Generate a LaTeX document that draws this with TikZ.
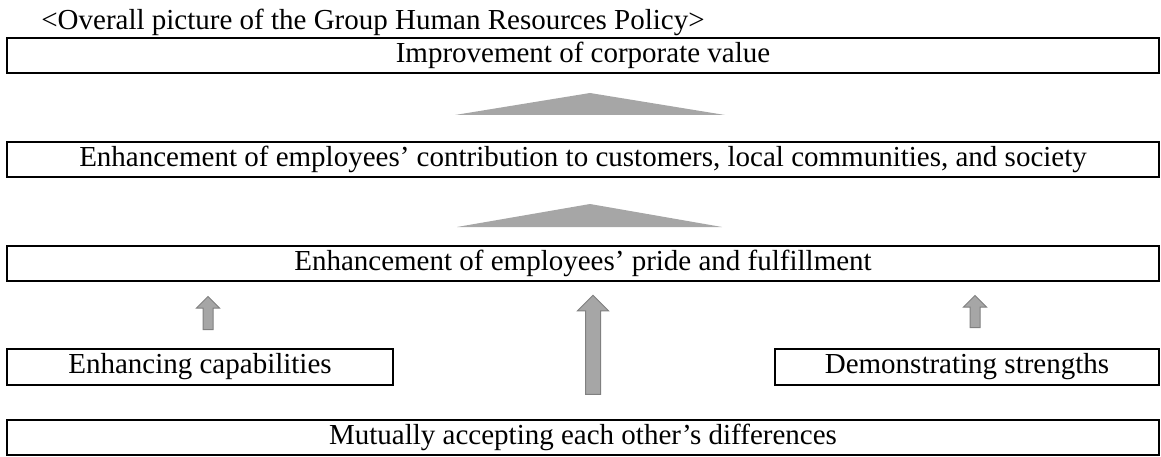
\documentclass[tikz,border=0pt]{standalone}
\usepackage{fontspec}
\setmainfont{Liberation Serif}
\usetikzlibrary{shapes.arrows}

\begin{document}
\begin{tikzpicture}[x=1pt,y=-1pt,
    box/.style={draw, line width=1.5pt, inner sep=0pt, font=\fontsize{29}{29}\selectfont},
    uparrow/.style={single arrow, draw=gray, fill=gray!70, line width=1pt, rotate=90, inner xsep=0pt, anchor=center}]
            \useasboundingbox (0,0) rectangle (1161,457);

            \node[font=\fontsize{29}{29}\selectfont, inner sep=0pt] (title) at (373, 22) {<Overall picture of the Group Human Resources Policy>};

            \node[box, minimum width=1152pt, minimum height=35pt] (value) at (583, 55.5) {Improvement of corporate value};
            \node[box, minimum width=1152pt, minimum height=35pt] (contrib) at (583, 159.5) {Enhancement of employees’ contribution to customers, local communities, and society};
            \node[box, minimum width=1152pt, minimum height=35pt] (pride) at (583, 263.5) {Enhancement of employees’ pride and fulfillment};

            \node[box, minimum width=386pt, minimum height=36pt] (capab) at (200, 367) {Enhancing capabilities};
            \node[box, minimum width=384pt, minimum height=36pt] (strength) at (967, 367) {Demonstrating strengths};
            \node[box, minimum width=1152pt, minimum height=35pt] (accept) at (583, 437.5) {Mutually accepting each other’s differences};

            \fill[gray!70] (455, 115) -- (590, 93) -- (725, 115) -- cycle;
            \fill[gray!70] (457, 227) -- (590, 204) -- (722, 227) -- cycle;

            \node[uparrow, inner ysep=4.5pt, minimum height=33pt, single arrow head extend=6.5pt] (upleft) at (208, 315.5) {};
            \node[uparrow, inner ysep=4.5pt, minimum height=32pt, single arrow head extend=6.5pt] (upright) at (975, 314) {};
            \node[uparrow, inner ysep=7pt, minimum height=99pt, single arrow head extend=8pt] (upmid) at (593, 348.5) {};
        \end{tikzpicture}
\end{document}
